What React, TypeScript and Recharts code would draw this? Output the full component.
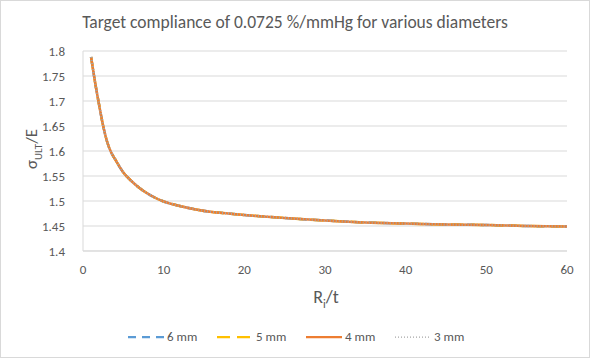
import { CartesianGrid, Line, LineChart, XAxis, YAxis } from 'recharts';

const ratio = [1, 1.5, 2, 2.5, 3, 3.5, 4, 5, 6, 7, 8, 9, 10, 12, 14, 16, 18, 20, 25, 30, 35, 40, 45, 50, 55, 60];
const ratio6mm = [1.788, 1.737, 1.692, 1.65, 1.618, 1.597, 1.583, 1.557, 1.54, 1.526, 1.515, 1.506, 1.499, 1.49, 1.483, 1.478, 1.475, 1.472, 1.466, 1.461, 1.457, 1.455, 1.453, 1.452, 1.45, 1.449];
const ratio5mm = [1.788, 1.737, 1.692, 1.65, 1.618, 1.597, 1.583, 1.557, 1.54, 1.526, 1.515, 1.506, 1.499, 1.49, 1.483, 1.478, 1.475, 1.472, 1.466, 1.461, 1.457, 1.455, 1.453, 1.452, 1.45, 1.449];
const ratio4mm = [1.788, 1.737, 1.692, 1.65, 1.618, 1.597, 1.583, 1.557, 1.54, 1.526, 1.515, 1.506, 1.499, 1.49, 1.483, 1.478, 1.475, 1.472, 1.466, 1.461, 1.457, 1.455, 1.453, 1.452, 1.45, 1.449];
const ratio3mm = [1.788, 1.737, 1.692, 1.65, 1.618, 1.597, 1.583, 1.557, 1.54, 1.526, 1.515, 1.506, 1.499, 1.49, 1.483, 1.478, 1.475, 1.472, 1.466, 1.461, 1.457, 1.455, 1.453, 1.452, 1.45, 1.449];

const xTicks = [0, 10, 20, 30, 40, 50, 60];
const yTicks = [1.4, 1.45, 1.5, 1.55, 1.6, 1.65, 1.7, 1.75, 1.8];

const series = [
  { key: 'd6', name: '6 mm', color: '#5B9BD5', dash: '8 6', legendWidth: 2.25 },
  { key: 'd5', name: '5 mm', color: '#FFC000', dash: '13 7', legendWidth: 2.25 },
  { key: 'd4', name: '4 mm', color: '#ED7D31', dash: undefined, legendWidth: 2.25 },
  { key: 'd3', name: '3 mm', color: '#A5A5A5', dash: '1 2', legendWidth: 1.25 },
];

const data = ratio.map((r, i) => ({
  r,
  d6: ratio6mm[i],
  d5: ratio5mm[i],
  d4: ratio4mm[i],
  d3: ratio3mm[i],
}));

const FONT = 'Calibri, Carlito, Lato, sans-serif';
const TEXT = '#595959';

function LegendBox() {
  return (
    <div style={{ position: 'absolute', left: 126, top: 328, display: 'flex', fontSize: 13, color: TEXT }}>
      {series.map((s) => (
        <div key={s.key} style={{ width: 89, display: 'flex', alignItems: 'center', gap: 3 }}>
          <svg width={37} height={10}>
            <line x1={1} y1={5} x2={37} y2={5} stroke={s.color} strokeWidth={s.legendWidth} strokeDasharray={s.dash} />
          </svg>
          <span>{s.name}</span>
        </div>
      ))}
    </div>
  );
}

export default function App() {
  return (
    <div
      style={{
        position: 'absolute',
        left: 0,
        top: 0,
        width: 588,
        height: 356,
        border: '1px solid #D9D9D9',
        background: '#fff',
        fontFamily: FONT,
      }}
    >
      <div style={{ position: 'absolute', top: 10, width: '100%', textAlign: 'center', fontSize: 17.5, color: TEXT }}>
        Target compliance of 0.0725 %/mmHg for various diameters
      </div>
      <div
        style={{
          position: 'absolute',
          left: 32,
          top: 148,
          transform: 'translate(-50%, -50%) rotate(-90deg)',
          fontSize: 17,
          color: TEXT,
          whiteSpace: 'nowrap',
        }}
      >
        σ<sub style={{ fontSize: 11 }}>ULT</sub>/E
      </div>
      <div style={{ position: 'absolute', left: 0, top: 285, width: 650, textAlign: 'center', fontSize: 18, color: TEXT }}>
        R<sub style={{ fontSize: 12 }}>i</sub>/t
      </div>
      <LineChart width={588} height={356} data={data} margin={{ top: 50, right: 22, left: 0, bottom: 0 }}>
        <CartesianGrid stroke="#D9D9D9" vertical={false} />
        <XAxis
          dataKey="r"
          type="number"
          domain={[0, 60]}
          ticks={xTicks}
          tickLine={false}
          axisLine={{ stroke: '#D9D9D9' }}
          tick={{ fontSize: 13, fill: TEXT, fontFamily: FONT }}
          tickMargin={8}
          height={106}
        />
        <YAxis
          type="number"
          domain={[1.4, 1.8]}
          ticks={yTicks}
          tickLine={false}
          axisLine={{ stroke: '#D9D9D9' }}
          tick={{ fontSize: 13, fill: TEXT, fontFamily: FONT }}
          tickMargin={12}
          width={82}
        />
        {series.map((s) => (
          <Line
            key={s.key}
            type="monotone"
            dataKey={s.key}
            name={s.name}
            stroke={s.color}
            strokeWidth={2.5}
            strokeDasharray={s.dash}
            dot={false}
            isAnimationActive={false}
          />
        ))}
      </LineChart>
      <LegendBox />
    </div>
  );
}
